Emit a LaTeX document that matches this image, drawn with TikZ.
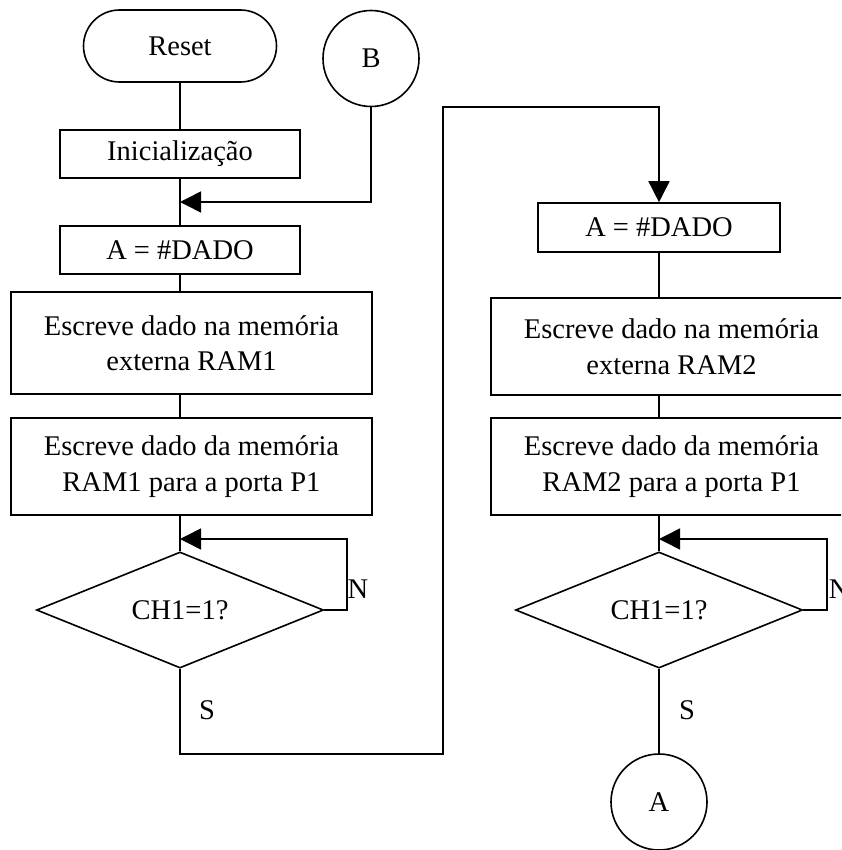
\documentclass[tikz,border=0pt]{standalone}
\usepackage{fontspec}
\setmainfont{Liberation Serif}
\usetikzlibrary{shapes.geometric,shapes.misc,arrows.meta}
\begin{document}
\begin{tikzpicture}[x=1pt,y=-1pt,
  every node/.style={font=\fontsize{28.5}{35.5}\selectfont, line width=1.6pt, inner sep=0pt},
  box/.style={draw, rectangle, align=center},
  terminal/.style={draw, rounded rectangle, minimum width=193pt, minimum height=72pt},
  conn/.style={draw, circle, minimum size=96pt},
  decision/.style={draw, diamond, minimum width=287pt, minimum height=94pt},
  link/.style={draw, line width=1.6pt},
  tip/.style={-{Triangle[length=21pt,width=21pt]}},
  tag/.style={anchor=center},
]
\useasboundingbox (0,0) rectangle (841,850);
\clip (0,0) rectangle (841,850);

% left column
\node[terminal] (reset) at (180,46) {Reset};
\node[conn] (B) at (371,58.5) {B};
\node[box, minimum width=240pt, minimum height=48pt] (init) at (180,154) {Inicialização};
\node[box, minimum width=240pt, minimum height=48pt] (dado1) at (180,250) {A = \#DADO};
\node[box, minimum width=361pt, minimum height=102pt] (esc1) at (191.5,343) {Escreve dado na memória\\externa RAM1};
\node[box, minimum width=361pt, minimum height=97pt] (por1) at (191.5,466.5) {Escreve dado da memória\\RAM1 para a porta P1};
\node[decision] (dia1) at (180,610) {CH1=1?\hspace{20pt}};
\node[tag] (n1) at (358,589) {N};
\node[tag] (s1) at (207,710) {S};

% right column
\node[box, minimum width=242pt, minimum height=49pt] (dado2) at (659,227.5) {A = \#DADO};
\node[box, minimum width=361pt, minimum height=97pt] (esc2) at (671.5,346.5) {Escreve dado na memória\\externa RAM2};
\node[box, minimum width=361pt, minimum height=97pt] (por2) at (671.5,466.5) {Escreve dado da memória\\RAM2 para a porta P1};
\node[decision] (dia2) at (659,610) {CH1=1?\hspace{24pt}};
\node[tag, anchor=west] (n2) at (828,589) {N};
\node[tag] (s2) at (687,710) {S};
\node[conn] (A) at (659,802) {A};

% junction and bend points
\coordinate (j1) at (180,202);
\coordinate (l1) at (347,539);
\coordinate (k1) at (180,539);
\coordinate (l2) at (827,539);
\coordinate (k2) at (659,539);
\coordinate (b1) at (443,754);
\coordinate (b2) at (443,107);

% left flow
\draw[link] (reset) -- (init);
\draw[link] (init) -- (dado1);
\draw[link, tip] (B.south) |- (j1);
\draw[link] (dado1) -- (dado1.south |- esc1.north);
\draw[link] (dado1.south |- esc1.south) -- (dado1.south |- por1.north);
\draw[link] (dado1.south |- por1.south) -- (dia1.north);
\draw[link, tip] (dia1.east) -| (l1) -- (k1);

% crossing to the right column
\draw[link, tip] (dia1.south) |- (b1) -- (b2) -| (dado2.north);

% right flow
\draw[link] (dado2.south) -- (dado2.south |- esc2.north);
\draw[link] (dado2.south |- esc2.south) -- (dado2.south |- por2.north);
\draw[link] (dado2.south |- por2.south) -- (dia2.north);
\draw[link, tip] (dia2.east) -| (l2) -- (k2);
\draw[link] (dia2.south) -- (A.north);
\end{tikzpicture}
\end{document}
